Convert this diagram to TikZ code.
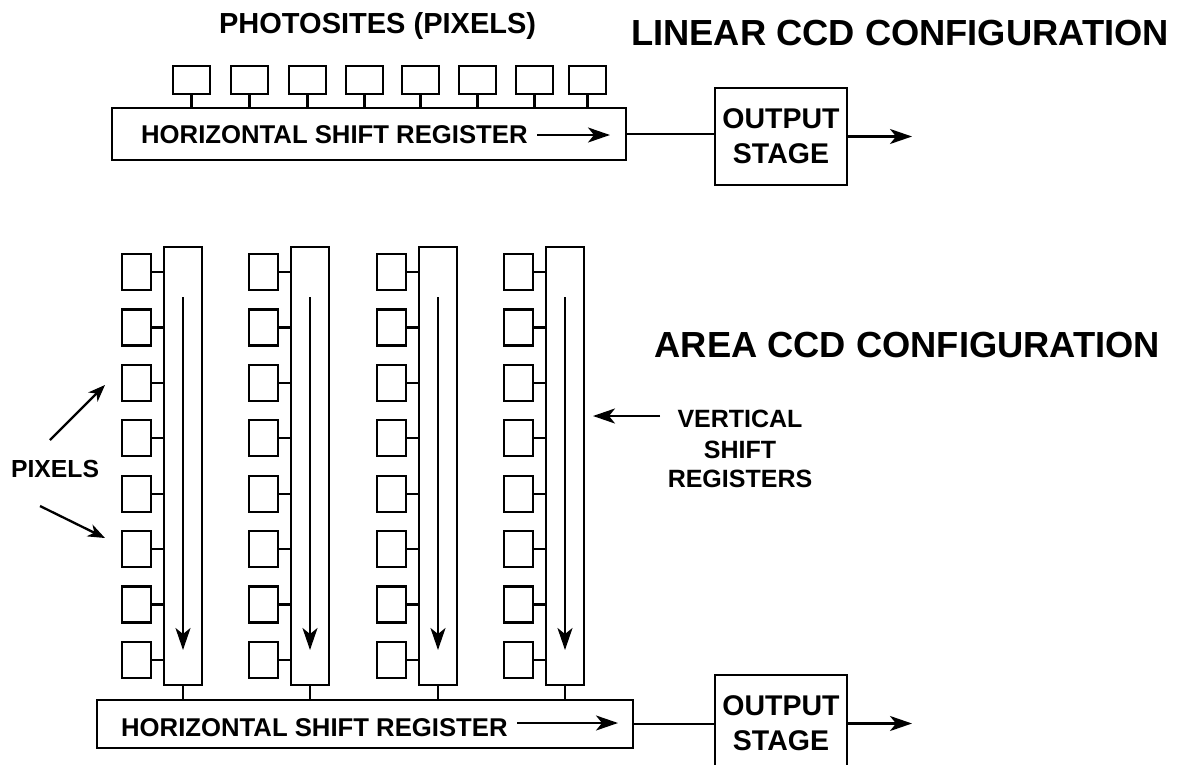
\documentclass[tikz,border=0pt]{standalone}
\usepackage{fontspec}
\setmainfont{Liberation Sans}
\usetikzlibrary{arrows.meta}
\begin{document}
\begin{tikzpicture}[x=1pt,y=-1pt,line width=2.3pt,
  boxnw/.style={draw,rectangle,inner sep=0pt,anchor=north west,outer sep=0pt},
  photo/.style={boxnw,minimum width=37pt,minimum height=28pt},
  pix/.style={boxnw,minimum width=29pt,minimum height=36pt},
  vreg/.style={boxnw,minimum width=38pt,minimum height=438pt},
  lbl/.style={inner sep=0pt,anchor=base west,font=\bfseries\fontsize{25.7}{30}\selectfont},
  title/.style={inner sep=0pt,anchor=base west,font=\bfseries\fontsize{36.3}{40}\selectfont},
  outbox/.style={boxnw,minimum width=132pt,minimum height=97pt,align=center,
    font=\bfseries\fontsize{28.5}{35}\selectfont},
  bigarrow/.style={-{Stealth[length=22pt,width=15pt,inset=6pt]}},
  smallarrow/.style={-{Stealth[length=17pt,width=13pt,inset=5pt]}}]
\useasboundingbox (0,0) rectangle (1179,764);
\clip (0,0) rectangle (1179,764);

% ---------- Linear CCD ----------
\node[inner sep=0pt,anchor=base west,font=\bfseries\fontsize{29}{32}\selectfont] (phtitle) at (218,33) {PHOTOSITES (PIXELS)};
\node[title] (lintitle) at (630,45) {LINEAR CCD CONFIGURATION};

\node[boxnw,minimum width=514pt,minimum height=52pt] (reg1) at (112,108) {};
\node[lbl] (reg1txt) at (140,143) {HORIZONTAL SHIFT REGISTER};
\coordinate (ra1) at (537,135);
\coordinate (rb1) at (610,135);
\draw[bigarrow] (ra1) -- (rb1);

\foreach \i/\x in {1/173,2/231,3/289,4/346,5/402,6/459,7/516,8/569}{
  \node[photo] (ph\i) at (\x,66) {};
  \draw (ph\i.south) -- (ph\i.south |- reg1.north);
}

\node[outbox] (out1) at (715,88) {OUTPUT\\STAGE};
\draw (reg1.east) -- (reg1.east -| out1.west);
\coordinate (oe1) at (912,134);
\draw[bigarrow] (out1.east) -- (oe1 |- out1.east);

% ---------- Area CCD ----------
\node[title] (areatitle) at (653.5,357) {AREA CCD CONFIGURATION};

\node[boxnw,minimum width=536pt,minimum height=48pt] (reg2) at (97,700) {};
\node[lbl] (reg2txt) at (120,736) {HORIZONTAL SHIFT REGISTER};
\coordinate (ra2) at (517,723);
\coordinate (rb2) at (618,723);
\draw[bigarrow] (ra2) -- (rb2);

\foreach \c/\x in {0/122,1/249,2/377,3/504}{
  \node[vreg] (v\c) at (\x+42,247) {};
  \foreach \r in {0,...,7}{
    \node[pix] (p\c\r) at (\x,254+\r*55.43) {};
    \draw (p\c\r.east) -- (p\c\r.east -| v\c.west);
  }
  \coordinate (vs\c) at (\x+61,297);
  \coordinate (ve\c) at (\x+61,650);
  \draw[bigarrow] (vs\c) -- (ve\c);
  \draw (v\c.south) -- (v\c.south |- reg2.north);
}

\node[outbox] (out2) at (715,675) {OUTPUT\\STAGE};
\draw (reg2.east) -- (reg2.east -| out2.west);
\coordinate (oe2) at (912,723);
\draw[bigarrow] (out2.east) -- (oe2 |- out2.east);

% labels
\node[inner sep=0pt,anchor=base,font=\bfseries\fontsize{25}{30}\selectfont] (vt1) at (740,427) {VERTICAL};
\node[inner sep=0pt,anchor=base,font=\bfseries\fontsize{25}{30}\selectfont] (vt2) at (740,458) {SHIFT};
\node[inner sep=0pt,anchor=base,font=\bfseries\fontsize{25}{30}\selectfont] (vt3) at (740,487) {REGISTERS};
\coordinate (va) at (660,416);
\coordinate (vb) at (593,416);
\draw[bigarrow] (va) -- (vb);

\node[inner sep=0pt,anchor=base west,font=\bfseries\fontsize{24.7}{30}\selectfont] (pixl) at (10,477) {PIXELS};
\coordinate (pa1) at (50,440);
\coordinate (pb1) at (105,385);
\coordinate (pa2) at (40,506);
\coordinate (pb2) at (105,538);
\draw[smallarrow] (pa1) -- (pb1);
\draw[smallarrow] (pa2) -- (pb2);
\end{tikzpicture}
\end{document}
